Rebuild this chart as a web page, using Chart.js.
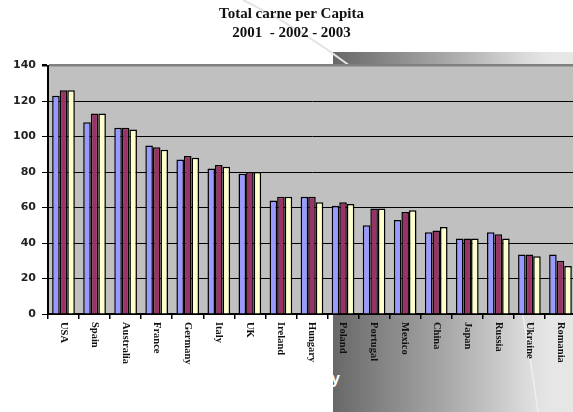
<!DOCTYPE html>
<html>
<head>
<meta charset="utf-8">
<script src="https://cdn.jsdelivr.net/npm/chart.js@4/dist/chart.umd.min.js"></script>
<style>
  html, body { margin: 0; padding: 0; background: #fff; overflow: hidden; }
  #wrap { position: relative; width: 573px; height: 412px; overflow: hidden; }
  #panel {
    position: absolute; left: 333px; top: 52px; right: 0; bottom: 0;
    background: linear-gradient(to right, #686868 0px, #a9a9a9 115px, #dcdcdc 195px, #e6e6e6 215px, #e6e6e6 100%);
  }
  #deco { position: absolute; left: 0; top: 0; }
  #ghost {
    position: absolute; left: 331px; top: 370px;
    font: bold 16px "Liberation Sans", Arial, sans-serif; color: #fff;
  }
  #c { position: absolute; left: 0; top: 0; }
</style>
</head>
<body>
<div id="wrap">
  <div id="panel"></div>
  <svg id="deco" width="573" height="412">
    <path d="M243 0 Q300 28 350 66" stroke="#e4e4e4" stroke-width="2" fill="none"/>
    <path d="M522 310 Q531 360 538 412" stroke="#eeeeee" stroke-width="1.5" fill="none"/>
  </svg>
  <div id="ghost">y</div>
  <canvas id="c" width="580" height="412"></canvas>
</div>
<script>
const countries = ['USA', 'Spain', 'Australia', 'France', 'Germany', 'Italy', 'UK', 'Ireland', 'Hungary',
    'Poland', 'Portugal', 'Mexico', 'China', 'Japan', 'Russia', 'Ukraine', 'Romania'];
const years = ['2001', '2002', '2003'];
const values2001 = [123, 108, 105, 95, 87, 82, 79, 64, 66, 61, 50, 53, 46, 42.5, 46, 33.5, 33.5];
const values2002 = [126, 113, 105, 94, 89, 84, 80, 66, 66, 63, 59.5, 57.5, 47, 42.5, 45, 33.5, 30];
const values2003 = [126, 113, 104, 92.5, 88, 83, 80, 66, 63, 62, 59.5, 58.5, 49, 42.5, 42.5, 32.5, 27];
const yTicks = [0, 20, 40, 60, 80, 100, 120, 140];

// grey plot background
const plotBg = {
    id: 'plotBg',
    beforeDraw(chart) {
        const a = chart.chartArea;
        const ctx = chart.ctx;
        ctx.save();
        ctx.fillStyle = '#c0c0c0';
        ctx.fillRect(a.left, a.top, a.right - a.left, a.bottom - a.top);
        ctx.restore();
    }
};

// category labels, rotated to read top-down
const xLabels = {
    id: 'xLabels',
    afterDraw(chart) {
        const xs = chart.scales.x;
        const ctx = chart.ctx;
        ctx.save();
        ctx.font = 'bold 10.5px "Liberation Serif", "Times New Roman", serif';
        ctx.fillStyle = '#111';
        ctx.textAlign = 'left';
        ctx.textBaseline = 'middle';
        countries.forEach(function (name, i) {
            ctx.save();
            ctx.translate(xs.getPixelForValue(i), xs.top + 8);
            ctx.rotate(Math.PI / 2);
            ctx.fillText(name, 0, 0);
            ctx.restore();
        });
        ctx.restore();
    }
};

const ctx = document.getElementById('c').getContext('2d');
new Chart(ctx, {
    type: 'bar',
    data: {
        labels: countries,
        datasets: [
            { label: years[0], data: values2001, backgroundColor: '#9999ff' },
            { label: years[1], data: values2002, backgroundColor: '#993366' },
            { label: years[2], data: values2003, backgroundColor: '#ffffcc' }
        ].map(function (d) {
            return Object.assign(d, { borderColor: '#000', borderWidth: 1.5, borderSkipped: 'bottom' });
        })
    },
    options: {
        responsive: false,
        animation: false,
        events: [],
        categoryPercentage: 0.73,
        barPercentage: 1,
        layout: { padding: { left: 7, right: 4, top: 0, bottom: 93 } },
        plugins: {
            legend: { display: false },
            tooltip: { enabled: false },
            title: {
                display: true,
                text: ['Total carne per Capita', '2001  - 2002 - 2003'],
                color: '#111',
                font: { family: '"Liberation Serif", "Times New Roman", serif', size: 15, weight: 'bold', lineHeight: 1.25 },
                padding: { top: 5, bottom: 23 }
            }
        },
        scales: {
            x: {
                offset: true,
                ticks: { display: false },
                grid: {
                    offset: true,
                    drawOnChartArea: false,
                    drawTicks: true,
                    tickLength: 5,
                    color: '#000',
                    lineWidth: 1.5
                },
                border: { display: true, color: '#000', width: 2 }
            },
            y: {
                min: yTicks[0],
                max: yTicks[yTicks.length - 1],
                afterBuildTicks(scale) {
                    scale.ticks = yTicks.map(function (v) { return { value: v }; });
                },
                ticks: {
                    color: '#222',
                    padding: 6,
                    font: { family: '"DejaVu Sans", Arial, sans-serif', size: 11, weight: 'bold' }
                },
                grid: {
                    color: function (c) { return c.tick && c.tick.value === 140 ? '#808080' : '#000'; },
                    lineWidth: function (c) { return c.tick && c.tick.value === 140 ? 2.5 : 1; },
                    tickColor: '#000',
                    tickLength: 6
                },
                border: { display: true, color: '#000', width: 2 }
            }
        }
    },
    plugins: [plotBg, xLabels]
});
</script>
</body>
</html>
